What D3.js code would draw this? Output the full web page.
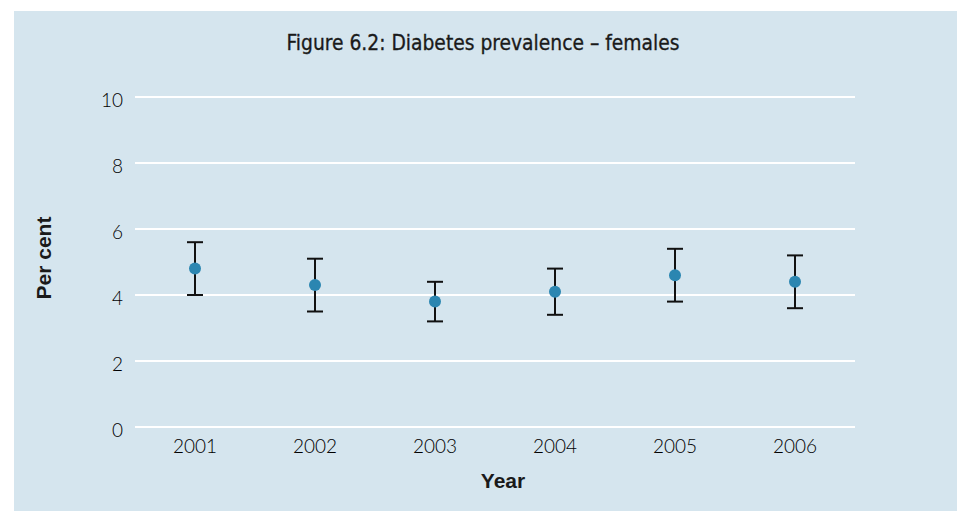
<!DOCTYPE html>
<html>
<head>
<meta charset="utf-8">
<script src="https://cdn.jsdelivr.net/npm/d3@7"></script>
<style>
  body { margin: 0; background: #fff; }
  svg text { fill: #1a1a1a; }
</style>
</head>
<body>
<svg width="965" height="511"></svg>
<script>
var years = ['2001', '2002', '2003', '2004', '2005', '2006'];
var estimates = [4.8, 4.3, 3.8, 4.1, 4.6, 4.4];
var lowerCI = [4.0, 3.5, 3.2, 3.4, 3.8, 3.6];
var upperCI = [5.6, 5.1, 4.4, 4.8, 5.4, 5.2];
var yTicks = [0, 2, 4, 6, 8, 10];

var svg = d3.select('svg'),
    margin = {top: 97, right: 110, bottom: 84, left: 135},
    width = +svg.attr('width'),
    height = +svg.attr('height'),
    innerW = width - margin.left - margin.right,
    innerH = height - margin.top - margin.bottom;

// light blue panel behind the chart
svg.append('rect')
   .attr('x', 14).attr('y', 11)
   .attr('width', 943).attr('height', 500)
   .attr('fill', '#d5e5ee');

svg.append('text')
   .attr('x', 483).attr('y', 50)
   .attr('text-anchor', 'middle')
   .style('font-family', '"Liberation Sans Narrow", "DejaVu Sans Condensed", sans-serif')
   .style('font-size', '20.8px')
   .style('stroke', '#1a1a1a')
   .style('stroke-width', 0.3)
   .text('Figure 6.2: Diabetes prevalence \u2013 females');

var g = svg.append('g').attr('transform', 'translate(' + margin.left + ',' + margin.top + ')');

var x = d3.scaleBand().domain(years).range([0, innerW]).padding(0);
var y = d3.scaleLinear().domain([0, 10]).range([innerH, 0]);

// gridlines
g.selectAll('.grid')
 .data(yTicks)
 .enter().append('line')
 .attr('x1', 0).attr('x2', innerW)
 .attr('y1', function(d) { return y(d); })
 .attr('y2', function(d) { return y(d); })
 .attr('stroke', '#fff')
 .attr('stroke-width', 2);

var yAxis = g.append('g')
             .call(d3.axisLeft(y).tickValues(yTicks).tickSize(0).tickPadding(12));
yAxis.select('.domain').remove();
yAxis.selectAll('text')
     .attr('dy', '0.5em')
     .style('font-family', 'Lato, sans-serif')
     .style('font-weight', 300)
     .style('font-size', '19px')
     .style('fill', '#000');

var xAxis = g.append('g')
             .attr('transform', 'translate(0,' + innerH + ')')
             .call(d3.axisBottom(x).tickSize(0).tickPadding(13));
xAxis.select('.domain').remove();
xAxis.selectAll('text')
     .style('font-family', 'Lato, sans-serif')
     .style('font-weight', 300)
     .style('font-size', '19px')
     .style('fill', '#000');

svg.append('text')
   .attr('x', 503).attr('y', 488)
   .attr('text-anchor', 'middle')
   .style('font-family', '"Liberation Sans", Arial, sans-serif')
   .style('font-weight', 'bold')
   .style('font-size', '21px')
   .text('Year');

svg.append('text')
   .attr('transform', 'translate(51,258) rotate(-90)')
   .attr('text-anchor', 'middle')
   .style('font-family', '"Liberation Sans", Arial, sans-serif')
   .style('font-weight', 'bold')
   .style('font-size', '21px')
   .text('Per cent');

var rows = years.map(function(yr, i) {
  return {year: yr, est: estimates[i], lo: lowerCI[i], hi: upperCI[i]};
});

var bars = g.selectAll('.err')
            .data(rows)
            .enter().append('g')
            .attr('transform', function(d) { return 'translate(' + (x(d.year) + x.bandwidth() / 2) + ',0)'; });

bars.append('line')
    .attr('y1', function(d) { return y(d.lo); })
    .attr('y2', function(d) { return y(d.hi); })
    .attr('stroke', '#111').attr('stroke-width', 2);

bars.selectAll('.cap')
    .data(function(d) { return [d.lo, d.hi]; })
    .enter().append('line')
    .attr('x1', -8).attr('x2', 8)
    .attr('y1', function(v) { return y(v); })
    .attr('y2', function(v) { return y(v); })
    .attr('stroke', '#111').attr('stroke-width', 2);

bars.append('circle')
    .attr('cy', function(d) { return y(d.est); })
    .attr('r', 6)
    .attr('fill', '#2b86b1');
</script>
</body>
</html>
